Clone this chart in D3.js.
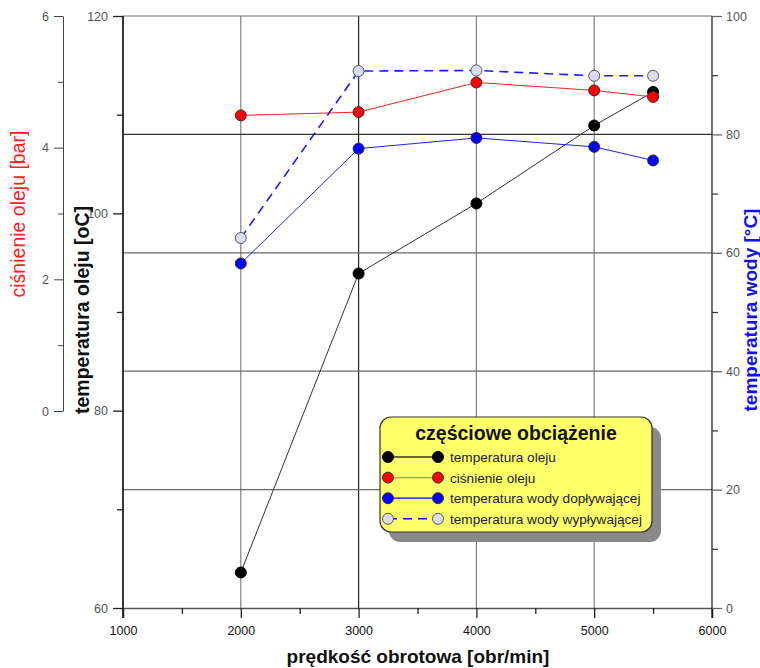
<!DOCTYPE html>
<html><head><meta charset="utf-8">
<script src="https://cdn.jsdelivr.net/npm/d3@7"></script>
<style>
body{margin:0;background:#fff;}
svg{font-family:"Liberation Sans",Arial,sans-serif;}
</style></head>
<body><svg id="c" width="760" height="668"></svg>
<script>
const speeds = [2000, 3000, 4000, 5000, 5500];
const oilTemp = [63.6, 93.9, 101.0, 108.9, 112.3];
const oilPressure = [4.49, 4.54, 4.99, 4.87, 4.77];
const waterIn = [58.2, 77.6, 79.4, 77.9, 75.6];
const waterOut = [62.5, 90.7, 90.8, 89.9, 89.9];

const xTicks = [1000, 2000, 3000, 4000, 5000, 6000];
const xMinor = [1500, 2500, 3500, 4500, 5500];
const pressTicks = [0, 2, 4, 6];
const pressMinor = [1, 3, 5];
const oilTicks = [60, 80, 100, 120];
const oilMinor = [70, 90, 110];
const waterTicks = [0, 20, 40, 60, 80, 100];
const waterMinor = [10, 30, 50, 70, 90];
const vGrid = [2000, 3000, 4000, 5000];
const hGrid = [20, 40, 60, 80, 100];

const legendTitle = "częściowe obciążenie";
const legendLabels = ["temperatura oleju", "ciśnienie oleju", "temperatura wody dopływającej", "temperatura wody wypływającej"];

const svg = d3.select("#c");
const x = d3.scaleLinear().domain([1000, 6000]).range([123, 712]);
const yOil = d3.scaleLinear().domain([60, 120]).range([608, 16]);
const yPress = d3.scaleLinear().domain([0, 6]).range([411, 16]);
const yWater = d3.scaleLinear().domain([0, 100]).range([608, 16]);

// gridlines
svg.append("g").selectAll("line").data(vGrid).join("line")
  .attr("x1", d => x(d)).attr("x2", d => x(d)).attr("y1", yWater(0)).attr("y2", yWater(100))
  .attr("stroke", d => d === 3000 ? "#222" : "#808080").attr("stroke-width", 1.2);
svg.append("g").selectAll("line").data(hGrid).join("line")
  .attr("x1", x(1000)).attr("x2", x(6000)).attr("y1", d => yWater(d)).attr("y2", d => yWater(d))
  .attr("stroke", d => d === 80 ? "#333" : "#6a6a6a").attr("stroke-width", 1.2);

function styleAxis(g, color) {
  g.select(".domain").attr("stroke", "#222").attr("stroke-width", 1.3);
  g.selectAll(".tick line").attr("stroke", "#222").attr("stroke-width", 1.3);
  g.selectAll("text").attr("fill", color).attr("font-size", 12.5).attr("font-family", "Liberation Sans, Arial, sans-serif");
}

// bottom axis
const gx = svg.append("g").attr("transform", `translate(0,${yWater(0)})`)
  .call(d3.axisBottom(x).tickValues(xTicks).tickFormat(d3.format("d")).tickSize(10).tickPadding(8));
styleAxis(gx, "#111");
gx.select(".domain").attr("stroke", "#555");
const gxm = svg.append("g").attr("transform", `translate(0,${yWater(0)})`)
  .call(d3.axisBottom(x).tickValues(xMinor).tickFormat("").tickSize(6));
gxm.select(".domain").remove();
gxm.selectAll(".tick line").attr("stroke", "#222").attr("stroke-width", 1.3);

// left oil temperature axis
const gOil = svg.append("g").attr("transform", `translate(${x(1000)},0)`)
  .call(d3.axisLeft(yOil).tickValues(oilTicks).tickFormat(d3.format("d")).tickSize(10).tickPadding(5));
styleAxis(gOil, "#555");
gOil.select(".domain").attr("d", `M0,${yOil(60)+10}V${yOil(120)}`).attr("stroke-width", 1.8);
const gOilm = svg.append("g").attr("transform", `translate(${x(1000)},0)`)
  .call(d3.axisLeft(yOil).tickValues(oilMinor).tickFormat("").tickSize(6));
gOilm.select(".domain").remove();
gOilm.selectAll(".tick line").attr("stroke", "#222").attr("stroke-width", 1.3);

// left pressure axis
const gP = svg.append("g").attr("transform", `translate(63,0)`)
  .call(d3.axisLeft(yPress).tickValues(pressTicks).tickFormat(d3.format("d")).tickSize(9).tickPadding(5).tickSizeOuter(0));
styleAxis(gP, "#555");
gP.select(".domain").attr("stroke", "#444").attr("stroke-width", 1);
gP.selectAll(".tick line").attr("stroke", "#444").attr("stroke-width", 1);
const gPm = svg.append("g").attr("transform", `translate(63,0)`)
  .call(d3.axisLeft(yPress).tickValues(pressMinor).tickFormat("").tickSize(5));
gPm.select(".domain").remove();
gPm.selectAll(".tick line").attr("stroke", "#444").attr("stroke-width", 1);

// right water axis
const gW = svg.append("g").attr("transform", `translate(${x(6000)},0)`)
  .call(d3.axisRight(yWater).tickValues(waterTicks).tickFormat(d3.format("d")).tickSize(10).tickPadding(4).tickSizeOuter(0));
styleAxis(gW, "#555");
gW.select(".domain").attr("d", `M0,${yWater(0)+10}V${yWater(100)}`).attr("stroke", "#111").attr("stroke-width", 1.2);
gW.selectAll(".tick line").attr("stroke", "#666");
const gWm = svg.append("g").attr("transform", `translate(${x(6000)},0)`)
  .call(d3.axisRight(yWater).tickValues(waterMinor).tickFormat("").tickSize(6));
gWm.select(".domain").remove();
gWm.selectAll(".tick line").attr("stroke", "#333").attr("stroke-width", 1.2);

// axis titles
svg.append("text").attr("transform", "translate(25,214) rotate(-90)").attr("text-anchor", "middle")
  .attr("font-size", 19.5).attr("fill", "#ff2020").text("ciśnienie oleju [bar]");
svg.append("text").attr("transform", "translate(89,310) rotate(-90)").attr("text-anchor", "middle")
  .attr("font-size", 19.5).attr("font-weight", "bold").attr("fill", "#111").text("temperatura oleju [oC]");
svg.append("text").attr("transform", "translate(757,310) rotate(-90)").attr("text-anchor", "middle")
  .attr("font-size", 19).attr("font-weight", "bold").attr("fill", "#1010ff").text("temperatura wody [°C]");
svg.append("text").attr("x", 418).attr("y", 663).attr("text-anchor", "middle")
  .attr("font-size", 19).attr("font-weight", "bold").attr("fill", "#111").text("prędkość obrotowa [obr/min]");

// series
const series = [
  {vals: oilTemp, y: yOil, line: "#333", width: 1, dash: null, fill: "#000", stroke: "#000", legendLine: "#333"},
  {vals: oilPressure, y: yPress, line: "#ff2020", width: 1, dash: null, fill: "#ff0000", stroke: "#333", legendLine: "#ff8040"},
  {vals: waterIn, y: yWater, line: "#2020ff", width: 1, dash: null, fill: "#0000ff", stroke: "#333", legendLine: "#0000ff"},
  {vals: waterOut, y: yWater, line: "#1a1aff", width: 1.6, dash: "9,6", fill: "#dcdcf2", stroke: "#555", legendLine: "#0000ff"}
];
const R = 5.5;
series.forEach(s => {
  const line = d3.line().x((d, i) => x(speeds[i])).y(d => s.y(d));
  svg.append("path").attr("d", line(s.vals)).attr("fill", "none").attr("stroke", s.line)
    .attr("stroke-width", s.width).attr("stroke-dasharray", s.dash);
});
series.forEach(s => {
  svg.append("g").selectAll("circle").data(s.vals).join("circle")
    .attr("cx", (d, i) => x(speeds[i])).attr("cy", d => s.y(d)).attr("r", R)
    .attr("fill", s.fill).attr("stroke", s.stroke).attr("stroke-width", 1);
});

// legend
const lg = svg.append("g");
lg.append("rect").attr("x", 389).attr("y", 427).attr("width", 272).attr("height", 115).attr("rx", 11)
  .attr("fill", "#8a8a8a");
lg.append("rect").attr("x", 380).attr("y", 417).attr("width", 272).attr("height", 115).attr("rx", 11)
  .attr("fill", "#ffff6a").attr("stroke", "#333").attr("stroke-width", 1.2);
lg.append("text").attr("x", 516).attr("y", 440).attr("text-anchor", "middle").attr("font-size", 19.5)
  .attr("font-weight", "bold").attr("fill", "#111").text(legendTitle);
legendLabels.forEach((lab, i) => {
  const s = series[i];
  const yy = 457 + i * 20.6;
  lg.append("line").attr("x1", 388).attr("x2", 438).attr("y1", yy).attr("y2", yy)
    .attr("stroke", s.legendLine).attr("stroke-width", i === 3 ? 1.6 : 1.3).attr("stroke-dasharray", s.dash);
  [388, 438].forEach(cx => lg.append("circle").attr("cx", cx).attr("cy", yy).attr("r", R)
    .attr("fill", s.fill).attr("stroke", s.stroke));
  lg.append("text").attr("x", 450).attr("y", yy + 5).attr("font-size", 13.6).attr("fill", "#222").text(lab);
});
</script></body></html>
